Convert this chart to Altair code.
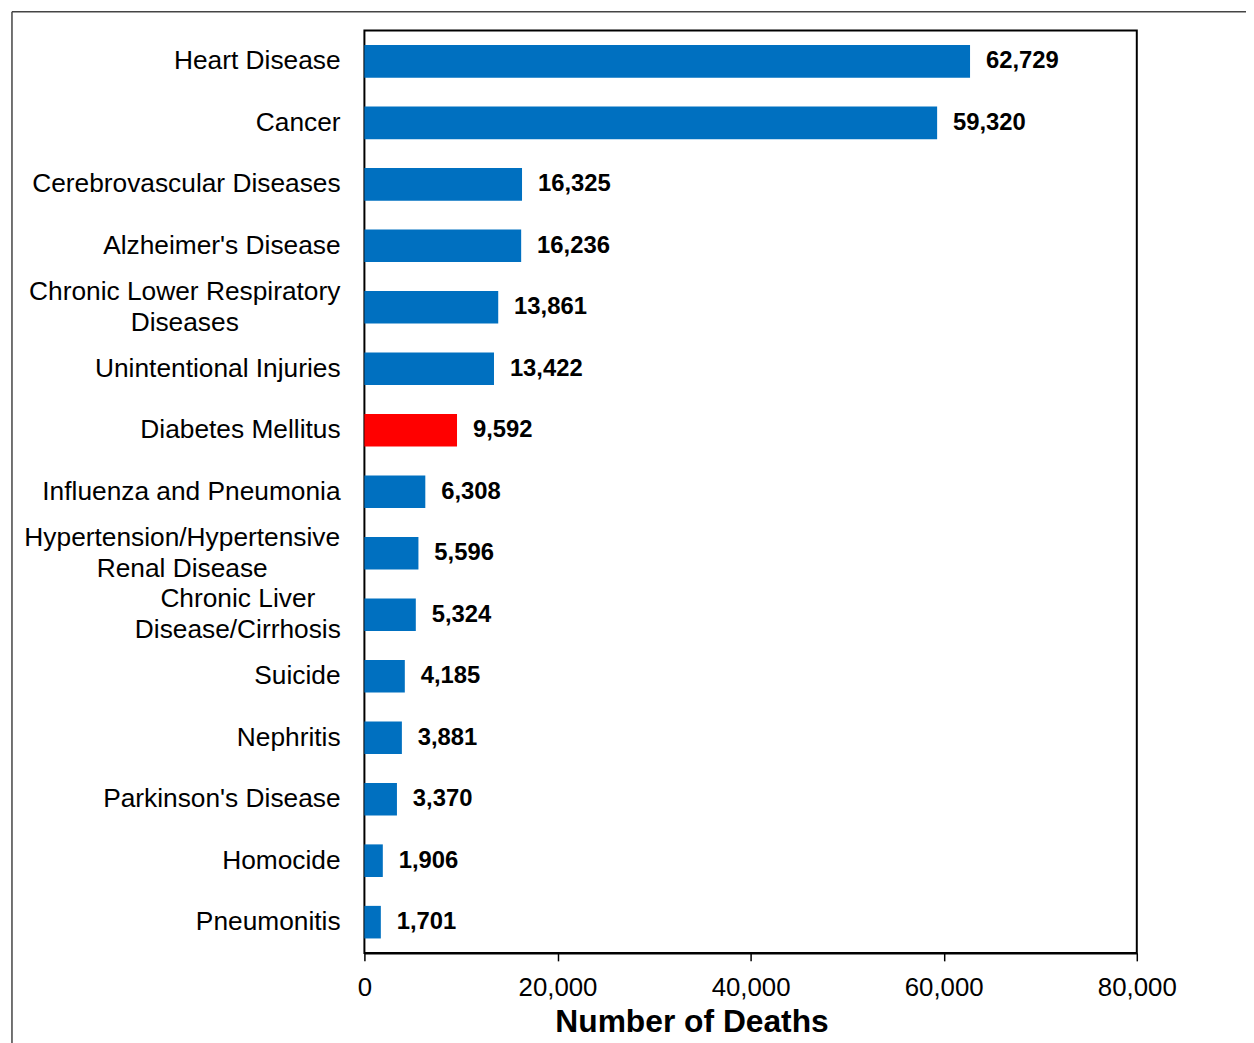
import altair as alt
import pandas as pd

# ---- data ----
causes = [
    "Heart Disease",
    "Cancer",
    "Cerebrovascular Diseases",
    "Alzheimer's Disease",
    "Chronic Lower Respiratory\nDiseases",
    "Unintentional Injuries",
    "Diabetes Mellitus",
    "Influenza and Pneumonia",
    "Hypertension/Hypertensive\nRenal Disease",
    "Chronic Liver\nDisease/Cirrhosis",
    "Suicide",
    "Nephritis",
    "Parkinson's Disease",
    "Homocide",
    "Pneumonitis",
]
deaths = [62729, 59320, 16325, 16236, 13861, 13422, 9592, 6308, 5596, 5324,
          4185, 3881, 3370, 1906, 1701]
highlight_cause = "Diabetes Mellitus"
x_ticks = [0, 20000, 40000, 60000, 80000]

df = pd.DataFrame({"cause": causes, "deaths": deaths})
df["hl"] = df["cause"] == highlight_cause

wrap_a = ["Chronic Lower Respiratory\nDiseases"]
wrap_b = ["Hypertension/Hypertensive\nRenal Disease"]
wrap_c = ["Chronic Liver\nDisease/Cirrhosis"]
single = [c for c in causes if "\n" not in c]

FONT = "Liberation Sans"

y_enc = alt.Y("cause:N", sort=causes,
              scale=alt.Scale(paddingInner=0.47, paddingOuter=0.235),
              axis=None)

base = alt.Chart(df)

bars = base.mark_bar().encode(
    x=alt.X("deaths:Q",
            scale=alt.Scale(domain=[0, 80000], nice=False),
            axis=alt.Axis(values=x_ticks, format=",.0f", grid=False,
                          domainColor="black", domainWidth=2,
                          tickColor="black", tickSize=8, tickWidth=1.5,
                          labelFont=FONT, labelFontSize=26, labelColor="black",
                          labelPadding=14, labelFlush=False,
                          title="Number of Deaths", titleFont=FONT,
                          titleFontSize=32, titleFontWeight="bold",
                          titleColor="black", titleX=329.5, titleY=79,
                          titleBaseline="alphabetic", titleAlign="center")),
    y=y_enc,
    color=alt.condition(alt.datum.hl, alt.value("#FF0000"), alt.value("#0070C0")),
)

values = base.mark_text(align="left", baseline="middle", dx=16, fontSize=24,
                        fontWeight="bold", font=FONT, color="black").encode(
    x="deaths:Q", y=y_enc, text=alt.Text("deaths:Q", format=","))

def label_layer(names, xpos, align, dy):
    return base.transform_filter(
        alt.FieldOneOfPredicate(field="cause", oneOf=names)
    ).mark_text(align=align, baseline="middle", fontSize=26.5, font=FONT,
                color="black", lineBreak="\n", lineHeight=31, dy=dy).encode(
        x=alt.value(xpos), y=y_enc, text="cause:N")

lab_single = label_layer(single, -24, "right", 0)
lab_a = label_layer(wrap_a, -181, "center", -15.5)
lab_b = label_layer(wrap_b, -183.5, "center", -15.5)
lab_c = label_layer(wrap_c, -127.5, "center", -15.5)

frame_df = pd.DataFrame({"k": [0]})
frame_top = alt.Chart(frame_df).mark_rule(color="#444444", strokeWidth=1.5).encode(
    x=alt.value(-355), x2=alt.value(1000), y=alt.value(-19))
frame_left = alt.Chart(frame_df).mark_rule(color="#444444", strokeWidth=1.5).encode(
    x=alt.value(-355), y=alt.value(-19), y2=alt.value(1100))

chart = alt.layer(frame_top, frame_left, bars, values,
                  lab_single, lab_a, lab_b, lab_c).properties(
    width=778, height=929,
    autosize=alt.AutoSizeParams(type="none"),
    padding={"left": 359, "top": 19, "right": 110, "bottom": 92},
).configure(font=FONT).configure_view(stroke="black", strokeWidth=2)

chart.save("out.html", embed_options={"renderer": "svg", "actions": False})
